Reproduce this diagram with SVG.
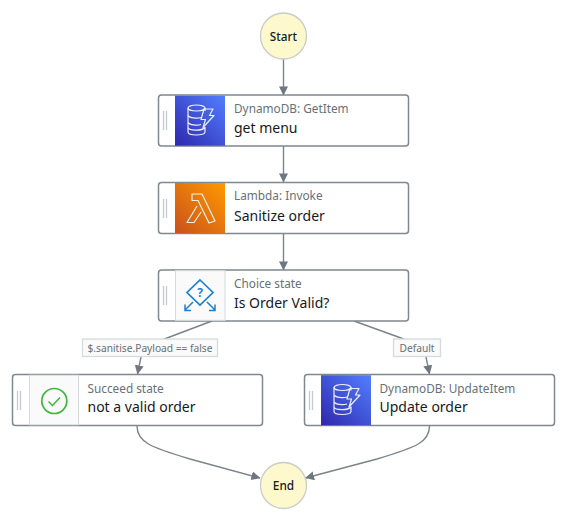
<svg xmlns="http://www.w3.org/2000/svg" width="568" height="522" viewBox="0 0 568 522">
<style>
text{font-family:"Noto Sans","Open Sans","Liberation Sans",sans-serif}
.box{fill:#fff;stroke:#7f878f;stroke-width:1.5}
.type{font-size:11.8px;fill:#687078}
.name{font-size:14px;fill:#16191f}
.grip{stroke:#c3c9ce;stroke-width:1.3;fill:none}
.term{fill:#fdf9cd;stroke:#c9ccc8;stroke-width:1.3}
.tt{font-size:11.8px;font-weight:500;fill:#16191f;text-anchor:middle}
.edge{fill:none;stroke:#7b838b;stroke-width:1.4}
.lab{fill:#fafafa;stroke:#d5dbdb;stroke-width:1.3}
.lt{font-size:10.2px;fill:#687078;text-anchor:middle}
.ic{fill:none;stroke:#fff;stroke-opacity:.9;stroke-width:1.2;stroke-linejoin:round}
.panel{fill:#fafafa;stroke:#d5dbdb;stroke-width:1}
</style>
<defs>
<linearGradient id="blue" x1="0" y1="1" x2="1" y2="0"><stop offset="0" stop-color="#2e27ad"/><stop offset="1" stop-color="#527fff"/></linearGradient>
<linearGradient id="orange" x1="0" y1="1" x2="1" y2="0"><stop offset="0" stop-color="#c8511b"/><stop offset="1" stop-color="#ff9900"/></linearGradient>
<marker id="arr" markerWidth="10" markerHeight="10" refX="8.600" refY="4.500" orient="auto" markerUnits="userSpaceOnUse"><path d="M0 0L9 4.500L0 9Z" fill="#6f7880"/></marker>
<g id="ddb">
<ellipse class="ic" cx="16.500" cy="8" rx="8.500" ry="3"/>
<path class="ic" d="M8 8V32C8 36 25 36 25 32V27M25 8V11M8 15C9 18.500 18 18.500 21 17.500M8 22C9 25.500 18 25.500 21 24.500M8 27.500C9 31 22 31 25 27.500"/>
<path class="ic" d="M24 9L33 9L29.500 15.500L34 15.500L23 27.500L25.500 19.500L21 19.500Z"/>
</g>
</defs>
<g id="connectors">
<path class="edge" marker-end="url(#arr)" d="M283.500 59V95"/>
<path class="edge" marker-end="url(#arr)" d="M283.500 146V182"/>
<path class="edge" marker-end="url(#arr)" d="M283.500 234V270"/>
<path class="edge" marker-end="url(#arr)" d="M212 321L167 338Q145 347 141 357L137.500 374"/>
<path class="edge" marker-end="url(#arr)" d="M354 321L401 338Q422 347 426 357L429.500 374"/>
<path class="edge" marker-end="url(#arr)" d="M137 426C137 442 150 447 190 459L260 478"/>
<path class="edge" marker-end="url(#arr)" d="M429.500 426C429.500 442 417 447 377 459L305.500 478"/>
</g>
<g id="start"><circle class="term" cx="283.500" cy="36" r="23"/><text class="tt" x="283.500" y="40.500">Start</text></g>
<g id="get-menu">
<rect class="box" x="158.500" y="95" width="250" height="51" rx="3"/>
<path class="grip" d="M163.500 111V130M166.500 111V130"/>
<rect x="175" y="95.700" width="50" height="50" fill="url(#blue)"/>
<use href="#ddb" x="180" y="100"/>
<text class="type" x="234" y="112.500">DynamoDB: GetItem</text>
<text class="name" x="234" y="133">get menu</text>
</g>
<g id="sanitize-order">
<rect class="box" x="158.500" y="182.500" width="250" height="51" rx="3"/>
<path class="grip" d="M163.500 199V218M166.500 199V218"/>
<rect x="175" y="183" width="50" height="50" fill="url(#orange)"/>
<path class="ic" d="M192 194H202L215 221L209 223L198 200.500H192ZM197 206L187 222.500H194L201 212"/>
<text class="type" x="234" y="200">Lambda: Invoke</text>
<text class="name" x="234" y="220.500">Sanitize order</text>
</g>
<g id="is-order-valid">
<rect class="box" x="158.500" y="270" width="250" height="51" rx="3"/>
<path class="grip" d="M163.500 286V305M166.500 286V305"/>
<rect class="panel" x="175.500" y="270.700" width="49.500" height="49.600"/>
<path d="M200 280L213 292.500L200 305L187 292.500Z" fill="#fff" stroke="#1b7fd0" stroke-width="1.700"/>
<path d="M193 302L185 310M185 304.500V310.500H191M207 302L215 310M215 304.500V310.500H209" fill="none" stroke="#1b7fd0" stroke-width="1.500"/>
<text x="200" y="296.500" font-size="12" font-weight="700" fill="#1b7fd0" text-anchor="middle">?</text>
<text class="type" x="234" y="287.500">Choice state</text>
<text class="name" x="234" y="307.500">Is Order Valid?</text>
</g>
<g id="label-false"><rect class="lab" x="82.500" y="339" width="135" height="17.500"/><text class="lt" x="150" y="352">$.sanitise.Payload == false</text></g>
<g id="label-default"><rect class="lab" x="393.500" y="339" width="47" height="17.500"/><text class="lt" x="417" y="352">Default</text></g>
<g id="not-valid">
<rect class="box" x="12.500" y="374.500" width="250" height="51" rx="3"/>
<path class="grip" d="M17.500 391V410M20.500 391V410"/>
<rect class="panel" x="29.500" y="375.200" width="49" height="49.600"/>
<circle cx="54.300" cy="401" r="12.500" fill="none" stroke="#3cb83c" stroke-width="1.700"/>
<path d="M48.500 401.500L52.500 405.500L60 397.500" fill="none" stroke="#3cb83c" stroke-width="1.500"/>
<text class="type" x="87.500" y="393">Succeed state</text>
<text class="name" x="87.500" y="412">not a valid order</text>
</g>
<g id="update-order">
<rect class="box" x="304.500" y="374.500" width="250" height="51" rx="3"/>
<path class="grip" d="M309.500 391V410M312.500 391V410"/>
<rect x="321" y="375.200" width="50" height="50" fill="url(#blue)"/>
<use href="#ddb" x="326" y="379.500"/>
<text class="type" x="379.500" y="393">DynamoDB: UpdateItem</text>
<text class="name" x="379.500" y="412">Update order</text>
</g>
<g id="end"><circle class="term" cx="283.500" cy="485.500" r="23"/><text class="tt" x="283.500" y="490">End</text></g>
</svg>
